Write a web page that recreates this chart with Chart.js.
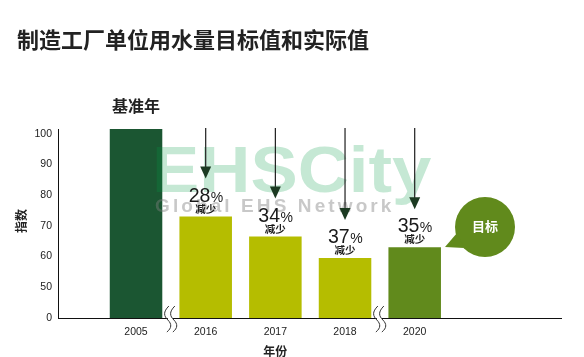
<!DOCTYPE html>
<html>
<head>
<meta charset="utf-8">
<script src="https://cdn.jsdelivr.net/npm/chart.js@4.4.1/dist/chart.umd.min.js"></script>
<style>
  html, body { margin: 0; padding: 0; background: #ffffff; }
  #wrap { width: 584px; height: 357px; position: relative; }
</style>
</head>
<body>
<div id="wrap"><canvas id="c" width="584" height="357"></canvas></div>
<script>
// ---- data ----
const categories = ['2005', '2016', '2017', '2018', '2020'];
const positions = [1, 2, 3, 4, 5];
const indexValues = [101.5, 73, 66.5, 59.5, 63];
const reductionPct = [null, 28, 34, 37, 35];
const yTickValues = [40, 50, 60, 70, 80, 90, 100];
const yTickLabels = ['0', '50', '60', '70', '80', '90', '100'];
const chartTitle = '制造工厂单位用水量目标值和实际值';
const baseLabel = '基准年';
const reduceWord = '减少';
const targetWord = '目标';
const yTitle = '指数';
const xTitle = '年份';

// ---- styles ----
const barColors = ['#1b5632', '#b5bd00', '#b5bd00', '#b5bd00', '#618a1c'];
const latin = '"Liberation Sans", Arial, sans-serif';
const cjk = '"Noto Sans CJK SC", "Liberation Sans", sans-serif';

const overlay = {
  id: 'overlay',
  afterDatasetsDraw(chart) {
    const ctx = chart.ctx;
    const meta = chart.getDatasetMeta(0);
    const area = chart.chartArea;
    ctx.save();

    // watermark
    ctx.save();
    ctx.font = 'bold 65px ' + latin;
    ctx.fillStyle = 'rgba(6,156,70,0.23)';
    ctx.textBaseline = 'alphabetic';
    ctx.translate(152, 192);
    ctx.scale(1.09, 1);
    ctx.fillText('EHSCity', 0, 0);
    ctx.restore();
    ctx.save();
    ctx.font = 'bold 19px ' + latin;
    ctx.letterSpacing = '3.1px';
    ctx.fillStyle = 'rgba(128,128,128,0.43)';
    ctx.textBaseline = 'alphabetic';
    ctx.fillText('Global EHS Network', 155, 212);
    ctx.restore();

    // title
    ctx.fillStyle = '#222';
    ctx.font = '600 22px ' + cjk;
    ctx.textAlign = 'left';
    ctx.textBaseline = 'middle';
    ctx.fillText(chartTitle, 17, 40);

    // base year label
    const b0 = meta.data[0];
    ctx.font = 'bold 16px ' + cjk;
    ctx.textAlign = 'center';
    ctx.fillText(baseLabel, b0.x, 106);

    // arrows + reduction labels
    for (let i = 0; i < positions.length; i++) {
      if (reductionPct[i] == null) continue;
      const bar = meta.data[i];
      const top = bar.y;
      const cx = bar.x;
      const tip = top - 38;
      ctx.strokeStyle = '#1d1d1d';
      ctx.lineWidth = 1.2;
      ctx.beginPath();
      ctx.moveTo(cx, area.top - 1);
      ctx.lineTo(cx, tip - 8);
      ctx.stroke();
      ctx.fillStyle = '#1c3a22';
      ctx.beginPath();
      ctx.moveTo(cx - 5.5, tip - 12);
      ctx.lineTo(cx + 5.5, tip - 12);
      ctx.lineTo(cx, tip);
      ctx.closePath();
      ctx.fill();

      // percentage
      const num = String(reductionPct[i]);
      ctx.font = '19.5px ' + latin;
      const wNum = ctx.measureText(num).width;
      ctx.font = '14px ' + latin;
      const wPct = ctx.measureText('%').width;
      const start = cx - (wNum + wPct) / 2;
      ctx.fillStyle = '#1a1a1a';
      ctx.textAlign = 'left';
      ctx.textBaseline = 'alphabetic';
      ctx.font = '19.5px ' + latin;
      ctx.fillText(num, start, top - 15);
      ctx.font = '14px ' + latin;
      ctx.fillText('%', start + wNum + 0.5, top - 15);

      ctx.font = 'bold 10.5px ' + cjk;
      ctx.textAlign = 'center';
      ctx.textBaseline = 'middle';
      ctx.fillText(reduceWord, cx, top - 8);
    }

    // target bubble
    const bx = 485, by = 227, r = 30;
    ctx.fillStyle = '#618a1c';
    ctx.beginPath();
    ctx.arc(bx, by, r, 0, Math.PI * 2);
    ctx.fill();
    ctx.beginPath();
    ctx.moveTo(445, 247);
    ctx.lineTo(457, 233);
    ctx.lineTo(464, 248);
    ctx.closePath();
    ctx.fill();
    ctx.fillStyle = '#ffffff';
    ctx.font = 'bold 13px ' + cjk;
    ctx.textAlign = 'center';
    ctx.textBaseline = 'middle';
    ctx.fillText(targetWord, bx, by - 1);

    // axis break marks
    const breaks = [(meta.data[0].x + meta.data[1].x) / 2, (meta.data[3].x + meta.data[4].x) / 2];
    const yb = area.bottom;
    breaks.forEach(cx => {
      const curve = (dx) => {
        ctx.moveTo(cx + dx + 1, yb - 12);
        ctx.bezierCurveTo(cx + dx - 5, yb - 6, cx + dx - 4, yb - 2, cx + dx, yb + 2);
        ctx.bezierCurveTo(cx + dx + 4, yb + 6, cx + dx + 4, yb + 10, cx + dx - 1, yb + 14);
      };
      ctx.fillStyle = '#ffffff';
      ctx.fillRect(cx - 3, yb - 2, 5, 4);
      ctx.strokeStyle = '#333';
      ctx.lineWidth = 1;
      ctx.beginPath();
      curve(-3);
      curve(3);
      ctx.stroke();
    });

    // axis titles
    ctx.fillStyle = '#222';
    ctx.font = 'bold 12px ' + cjk;
    ctx.textAlign = 'center';
    ctx.textBaseline = 'middle';
    const midBars = (meta.data[0].x + meta.data[4].x) / 2;
    ctx.fillText(xTitle, midBars, 351);
    ctx.save();
    ctx.translate(21, 221);
    ctx.rotate(-Math.PI / 2);
    ctx.fillText(yTitle, 0, 0);
    ctx.restore();

    ctx.restore();
  }
};

new Chart(document.getElementById('c'), {
  type: 'bar',
  data: {
    datasets: [{
      data: positions.map((p, i) => ({ x: p, y: indexValues[i] })),
      backgroundColor: barColors,
      borderWidth: 0,
      barPercentage: 0.754,
      categoryPercentage: 1.0
    }]
  },
  options: {
    responsive: false,
    animation: false,
    events: [],
    layout: { padding: { left: 0, top: 129, right: 23, bottom: 0 } },
    plugins: { legend: { display: false }, tooltip: { enabled: false }, title: { display: false } },
    scales: {
      x: {
        type: 'linear',
        offset: false,
        min: -0.12,
        max: 7.1,
        grid: { display: false, drawTicks: false },
        border: { display: true, color: '#111', width: 1 },
        afterBuildTicks: (s) => { s.ticks = positions.map(v => ({ value: v })); },
        afterFit: (s) => { s.height = 39; },
        ticks: {
          autoSkip: false,
          maxRotation: 0,
          padding: 8,
          color: '#222',
          font: { family: latin, size: 10.5 },
          callback: (v) => { const i = positions.indexOf(v); return i >= 0 ? categories[i] : ''; }
        }
      },
      y: {
        type: 'linear',
        min: 40,
        max: 101.5,
        grid: { display: false, drawTicks: false },
        border: { display: true, color: '#111', width: 1 },
        afterBuildTicks: (s) => { s.ticks = yTickValues.map(v => ({ value: v })); },
        afterFit: (s) => { s.width = 58; },
        ticks: {
          padding: 6,
          color: '#222',
          font: { family: latin, size: 10.5 },
          callback: (v) => { const i = yTickValues.indexOf(v); return i >= 0 ? yTickLabels[i] : ''; }
        }
      }
    }
  },
  plugins: [overlay]
});
</script>
</body>
</html>
